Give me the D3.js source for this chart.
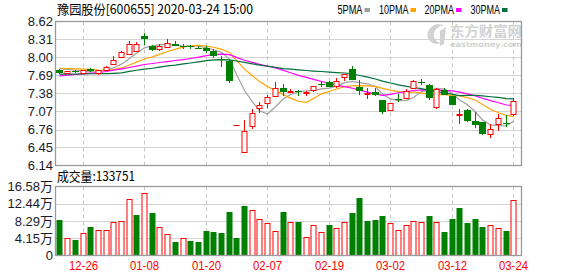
<!DOCTYPE html>
<html><head><meta charset="utf-8">
<script src="https://cdn.jsdelivr.net/npm/d3@7"></script>
<style>html,body{margin:0;padding:0;background:#fff}svg{display:block}</style>
</head><body><svg id="c" width="578" height="276"></svg>
<script>
const dates=["12-23","12-24","12-25","12-26","12-27","12-30","12-31","01-02","01-03","01-06","01-07","01-08","01-09","01-10","01-13","01-14","01-15","01-16","01-17","01-20","01-21","01-22","01-23","02-03","02-04","02-05","02-06","02-07","02-10","02-11","02-12","02-13","02-14","02-17","02-18","02-19","02-20","02-21","02-24","02-25","02-26","02-27","02-28","03-02","03-03","03-04","03-05","03-06","03-09","03-10","03-11","03-12","03-13","03-16","03-17","03-18","03-19","03-20","03-23","03-24"];
const open=[7.78,7.735,7.765,7.73,7.80,7.73,7.78,7.89,8.01,8.06,8.11,8.37,8.20,8.14,8.185,8.24,8.20,8.19,8.17,8.16,8.11,7.97,7.94,6.84,6.38,6.82,7.13,7.22,7.33,7.48,7.41,7.42,7.39,7.44,7.545,7.58,7.51,7.67,7.81,7.50,7.375,7.40,7.27,7.10,7.285,7.31,7.48,7.585,7.53,7.15,7.44,7.33,7.015,7.09,6.91,6.89,6.69,6.85,6.88,7.02];
const high=[7.80,7.77,7.78,7.79,7.82,7.78,7.855,8.02,8.12,8.29,8.27,8.42,8.21,8.24,8.31,8.29,8.23,8.22,8.19,8.19,8.14,8.025,7.963,6.84,6.92,7.12,7.24,7.35,7.58,7.55,7.45,7.44,7.42,7.515,7.58,7.60,7.64,7.71,7.85,7.61,7.48,7.47,7.27,7.21,7.37,7.45,7.61,7.63,7.54,7.48,7.48,7.34,7.11,7.11,7.06,6.89,6.86,7.03,7.01,7.30];
const low=[7.72,7.73,7.73,7.72,7.75,7.69,7.77,7.88,8.00,8.06,8.10,8.21,8.12,8.12,8.18,8.19,8.15,8.14,8.14,8.07,7.995,7.843,7.554,6.84,6.38,6.77,7.04,7.135,7.33,7.33,7.38,7.33,7.34,7.40,7.49,7.485,7.47,7.60,7.61,7.36,7.28,7.33,7.02,7.09,7.23,7.31,7.45,7.52,7.27,7.12,7.36,7.18,6.86,6.89,6.79,6.66,6.61,6.74,6.80,7.00];
const close=[7.735,7.765,7.755,7.78,7.76,7.78,7.84,7.96,8.09,8.24,8.23,8.31,8.13,8.20,8.25,8.20,8.19,8.18,8.16,8.11,8.03,7.96,7.60,6.84,6.73,7.05,7.19,7.32,7.47,7.41,7.43,7.415,7.41,7.51,7.535,7.49,7.59,7.71,7.62,7.43,7.385,7.35,7.06,7.21,7.275,7.42,7.59,7.575,7.30,7.46,7.36,7.19,7.025,6.90,6.83,6.68,6.77,6.96,6.865,7.255];
const ma5=[7.81,7.795,7.78,7.765,7.759,7.768,7.783,7.824,7.886,7.982,8.072,8.166,8.20,8.222,8.224,8.218,8.194,8.204,8.196,8.168,8.134,8.088,7.972,7.708,7.432,7.236,7.082,7.026,7.152,7.288,7.364,7.409,7.427,7.435,7.46,7.472,7.507,7.567,7.589,7.568,7.547,7.499,7.369,7.287,7.256,7.263,7.311,7.414,7.432,7.469,7.457,7.377,7.267,7.187,7.061,6.925,6.841,6.828,6.821,6.906];
const ma10=[7.815,7.81,7.805,7.80,7.795,7.785,7.78,7.79,7.82,7.871,7.92,7.975,8.012,8.054,8.103,8.145,8.18,8.202,8.209,8.196,8.176,8.141,8.088,7.952,7.80,7.685,7.585,7.499,7.43,7.36,7.30,7.246,7.227,7.294,7.374,7.418,7.458,7.497,7.512,7.514,7.51,7.503,7.468,7.438,7.412,7.405,7.405,7.392,7.36,7.363,7.36,7.344,7.341,7.31,7.265,7.191,7.109,7.048,7.004,6.984];
const ma20=[7.684,7.696,7.707,7.719,7.73,7.742,7.759,7.782,7.805,7.828,7.85,7.88,7.897,7.914,7.93,7.948,7.965,7.983,8.006,8.033,8.048,8.058,8.05,8.003,7.952,7.915,7.883,7.851,7.82,7.778,7.738,7.693,7.657,7.623,7.587,7.552,7.522,7.498,7.471,7.437,7.405,7.374,7.347,7.366,7.393,7.412,7.432,7.444,7.436,7.438,7.435,7.424,7.404,7.374,7.339,7.298,7.257,7.22,7.182,7.173];
const ma30=[7.713,7.713,7.716,7.718,7.72,7.72,7.723,7.728,7.735,7.76,7.78,7.80,7.815,7.835,7.855,7.87,7.89,7.905,7.925,7.945,7.96,7.965,7.96,7.94,7.915,7.89,7.87,7.85,7.83,7.809,7.799,7.787,7.776,7.767,7.759,7.749,7.741,7.733,7.717,7.69,7.662,7.63,7.594,7.561,7.529,7.503,7.483,7.463,7.434,7.412,7.39,7.364,7.345,7.347,7.35,7.338,7.324,7.312,7.292,7.287];
const volume=[8.48,4.16,3.77,5.42,6.83,6.04,6.04,7.93,8.40,13.58,9.66,15.07,10.13,6.75,5.10,3.30,4.16,3.53,3.30,5.89,5.65,5.50,10.36,4.24,11.78,10.99,8.87,7.77,5.81,10.36,8.16,8.01,4.40,7.30,5.65,7.30,6.52,7.93,10.13,13.89,8.24,8.48,9.42,7.77,6.12,7.30,8.40,8.16,9.42,7.93,5.65,8.71,11.30,7.77,8.71,6.83,7.30,6.52,5.89,13.38];
const volumeUp=[0,1,0,1,0,1,1,1,1,1,0,1,0,1,1,0,1,0,0,0,0,0,0,0,0,1,1,1,1,0,1,0,1,1,1,0,1,1,0,0,0,0,0,1,1,1,1,1,0,1,0,0,0,0,0,0,1,1,0,1];
const priceTicks=["8.62","8.31","8.00","7.69","7.38","7.07","6.76","6.45","6.14"];
const volumeTickValues=[16.58,12.44,8.29,4.15,0];
const volumeTickLabels=["16.58万","12.44万","8.29万","4.15万","0"];
const xTickLabels=["12-26","01-08","01-20","02-07","02-19","03-02","03-12","03-24"];
const title="豫园股份[600655] 2020-03-24 15:00";
const volumeTitle="成交量:133751";
const maNames=["5PMA","10PMA","20PMA","30PMA"];

const RED="#ff0000", GREEN="#008000";
const maColors=["#a0a0a0","#ffa500","#ff00ff","#00703c"];
const svg=d3.select("#c");
const L=55.5, R=521.5, PT=21.5, PB=165.5, VT=186.5, VB=255.5;

const x=d3.scaleBand().domain(d3.range(dates.length)).range([56.15,517.55]).paddingInner(0.28).paddingOuter(0.14);
const cx=i=>Math.floor(x(i)+x.bandwidth()/2)+0.5;
const yP=d3.scaleLinear().domain([6.14,8.62]).range([PB,PT]);
const yV=d3.scaleLinear().domain([0,16.58]).range([VB,VT]);
const snap=v=>Math.round(v)+0.5;

// horizontal grid
svg.append("g").selectAll("line").data(priceTicks.slice(1,-1)).join("line")
  .attr("x1",L).attr("x2",R).attr("y1",d=>snap(yP(+d))).attr("y2",d=>snap(yP(+d)))
  .attr("stroke","#d4d4d4");
svg.append("g").selectAll("line").data(volumeTickValues.slice(1,-1)).join("line")
  .attr("x1",L).attr("x2",R).attr("y1",d=>snap(yV(d))).attr("y2",d=>snap(yV(d)))
  .attr("stroke","#d4d4d4");
// vertical dashed grid
const tickIdx=xTickLabels.map(t=>dates.indexOf(t));
[[PT,PB],[VT,VB]].forEach(([a,b])=>{
  svg.append("g").selectAll("line").data(tickIdx).join("line")
    .attr("x1",cx).attr("x2",cx).attr("y1",a).attr("y2",b)
    .attr("stroke","#c8c8c8").attr("stroke-dasharray","4,3");
});

// watermark
const wm=svg.append("g").attr("fill","#d2d2d2");
wm.append("path").attr("d","M437,24 C430,26 426,32 428,38 C430,43 436,45 441,43 C436,42 433,38 434,33 C435,29 439,26 444,25 Z M440,31 L446,27 L444,44 L440,46 Z");
wm.append("text").attr("x",450).attr("y",35.5).attr("font-family","Noto Sans CJK SC").attr("font-weight","bold")
  .attr("font-size",13.5).attr("textLength",72).attr("lengthAdjust","spacingAndGlyphs").text("东方财富网");
wm.append("text").attr("x",450).attr("y",46.5).attr("font-family","DejaVu Sans").attr("font-weight","bold")
  .attr("font-size",7.5).attr("textLength",72).attr("lengthAdjust","spacingAndGlyphs").text("eastmoney.com");

// MA lines
const line=d3.line().x((d,i)=>cx(i)).y(d=>yP(d));
[ma5,ma10,ma20,ma30].forEach((arr,k)=>{
  svg.append("path").datum(arr).attr("d",line).attr("fill","none")
    .attr("stroke",maColors[k]).attr("stroke-width",1.2);
});

// candles
const cg=svg.append("g");
dates.forEach((d,i)=>{
  const c=cx(i), up=close[i]>=open[i];
  const yo=Math.round(yP(open[i])), yc=Math.round(yP(close[i]));
  const yh=Math.round(yP(high[i])), yl=Math.round(yP(low[i]));
  if(up){
    const top=Math.min(yo,yc), bot=Math.max(yo,yc);
    if(yh<top) cg.append("line").attr("x1",c).attr("x2",c).attr("y1",yh).attr("y2",top).attr("stroke",RED);
    if(yl>bot) cg.append("line").attr("x1",c).attr("x2",c).attr("y1",bot).attr("y2",yl).attr("stroke",RED);
    if(bot-top<1){
      cg.append("line").attr("x1",c-3).attr("x2",c+3).attr("y1",top+0.5).attr("y2",top+0.5).attr("stroke",RED);
    } else {
      cg.append("rect").attr("x",c-2.5).attr("width",5).attr("y",top+0.5).attr("height",bot-top)
        .attr("fill","#fff").attr("stroke",RED);
    }
  } else {
    cg.append("line").attr("x1",c).attr("x2",c).attr("y1",yh).attr("y2",Math.max(yl,yh+1)).attr("stroke",GREEN);
    cg.append("rect").attr("x",c-3.5).attr("width",7).attr("y",yo).attr("height",Math.max(1,yc-yo)).attr("fill",GREEN);
  }
});

// volume bars
const vg=svg.append("g");
volume.forEach((v,i)=>{
  const c=cx(i), yt=Math.round(yV(v)), yb=Math.round(yV(0));
  if(volumeUp[i]){
    vg.append("rect").attr("x",c-2.5).attr("width",5).attr("y",yt+0.5).attr("height",yb-yt-1)
      .attr("fill","#fff").attr("stroke",RED);
  } else {
    vg.append("rect").attr("x",c-3).attr("width",6).attr("y",yt).attr("height",yb-yt).attr("fill",GREEN);
  }
});

// panel borders
svg.append("rect").attr("x",L).attr("y",PT).attr("width",R-L).attr("height",PB-PT)
  .attr("fill","none").attr("stroke","#9a9a9a").attr("stroke-width",1.3);
svg.append("rect").attr("x",L).attr("y",VT).attr("width",R-L).attr("height",VB-VT)
  .attr("fill","none").attr("stroke","#9a9a9a").attr("stroke-width",1.3);

// axis labels
const fontSans="Liberation Sans, Arial, sans-serif";
svg.append("g").selectAll("text").data(priceTicks).join("text")
  .attr("x",53).attr("y",d=>yP(+d)).attr("dy","0.36em").attr("text-anchor","end")
  .attr("font-family",fontSans).attr("font-size",13).attr("fill","#1a1a2a").text(d=>d);
svg.append("g").selectAll("text").data(volumeTickValues).join("text")
  .attr("x",53).attr("y",d=>yV(d)).attr("dy","0.36em").attr("text-anchor","end")
  .attr("font-family",fontSans+", Noto Sans CJK SC").attr("font-size",13).attr("fill","#1a1a2a")
  .text((d,i)=>volumeTickLabels[i]);
svg.append("g").selectAll("text").data(tickIdx).join("text")
  .attr("x",cx).attr("y",270).attr("text-anchor","middle")
  .attr("font-family",fontSans).attr("font-size",12).attr("fill",RED)
  .attr("textLength",29).attr("lengthAdjust","spacingAndGlyphs")
  .text(i=>dates[i]);

// title
svg.append("text").attr("x",57).attr("y",14).attr("font-family","Noto Sans CJK SC, Liberation Sans")
  .attr("font-size",13).attr("fill","#000").attr("textLength",196).attr("lengthAdjust","spacingAndGlyphs").text(title);
svg.append("text").attr("x",57).attr("y",181).attr("font-family","Noto Sans CJK SC, Liberation Sans")
  .attr("font-size",13).attr("fill","#000").attr("textLength",78).attr("lengthAdjust","spacingAndGlyphs").text(volumeTitle);

// legend
const legX=[337.5,379,424.5,470.5], legW=[25,29.5,29.5,29.5];
maNames.forEach((n,k)=>{
  svg.append("text").attr("x",legX[k]).attr("y",13.5).attr("font-family",fontSans)
    .attr("font-size",12).attr("fill","#000").attr("textLength",legW[k]).attr("lengthAdjust","spacingAndGlyphs").text(n);
  svg.append("rect").attr("x",legX[k]+legW[k]+2).attr("y",8).attr("width",5.5).attr("height",4).attr("fill",maColors[k]);
});
</script></body></html>
